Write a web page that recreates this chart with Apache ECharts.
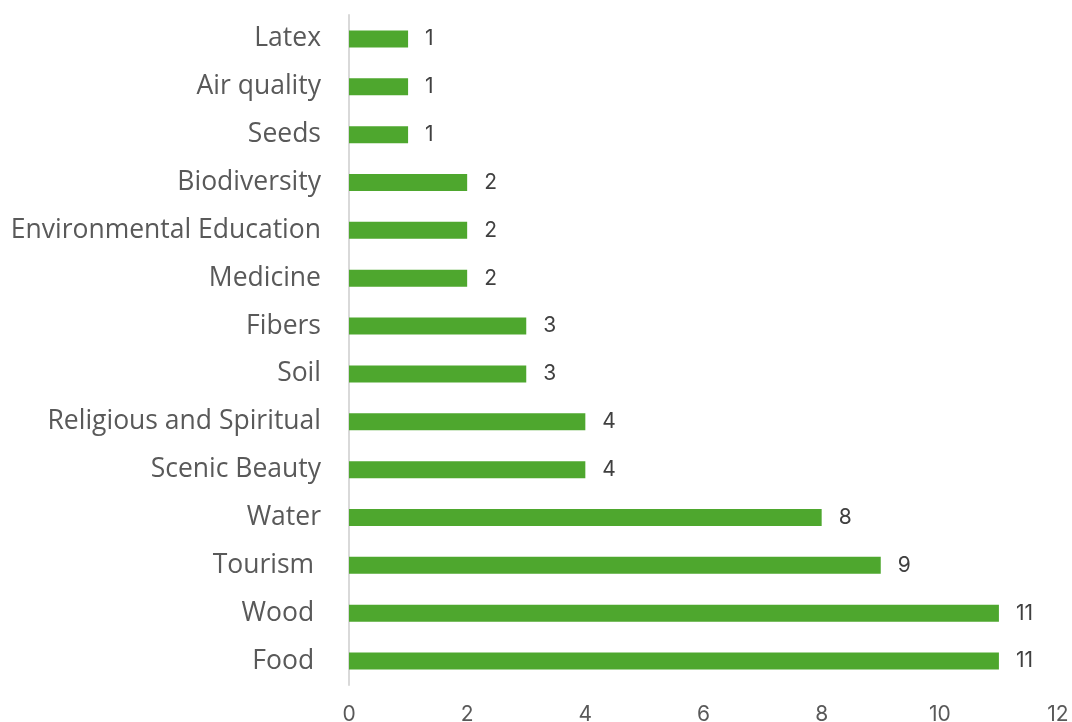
<!DOCTYPE html>
<html>
<head>
<meta charset="utf-8">
<script src="https://cdn.jsdelivr.net/npm/echarts@6/dist/echarts.min.js"></script>
<style>
  html, body { margin: 0; padding: 0; background: #ffffff; }
  #chart { width: 1072px; height: 722px; }
</style>
</head>
<body>
<div id="chart"></div>
<script>
// Ecosystem services, ordered top to bottom as drawn
// (the last three names carry a trailing space in the source table)
const categories = [
  'Latex', 'Air quality', 'Seeds', 'Biodiversity', 'Environmental Education',
  'Medicine', 'Fibers', 'Soil', 'Religious and Spiritual', 'Scenic Beauty',
  'Water', 'Tourism ', 'Wood ', 'Food '
];
const counts = [1, 1, 1, 2, 2, 2, 3, 3, 4, 4, 8, 9, 11, 11];
const xTicks = [0, 2, 4, 6, 8, 10, 12];

const chart = echarts.init(document.getElementById('chart'), null, { renderer: 'canvas' });

chart.setOption({
  animation: false,
  backgroundColor: '#ffffff',
  grid: {
    left: 349, right: 14, top: 15, bottom: 37,
    containLabel: false,
    outerBoundsMode: 'none'
  },
  xAxis: {
    type: 'value',
    min: xTicks[0],
    max: xTicks[xTicks.length - 1],
    interval: 2,
    axisLine: { show: false },
    axisTick: { show: false },
    splitLine: { show: false },
    axisLabel: {
      margin: 19,
      color: '#595959',
      fontFamily: 'Inter',
      fontSize: 21
    }
  },
  yAxis: {
    type: 'category',
    data: categories,
    inverse: true,
    axisLine: { show: true, lineStyle: { color: '#d9d9d9', width: 2 } },
    axisTick: { show: false },
    axisLabel: {
      margin: 28,
      color: '#595959',
      fontFamily: 'Open Sans',
      fontSize: 26.5
    }
  },
  series: [{
    type: 'bar',
    data: counts,
    barWidth: 17,
    itemStyle: { color: '#4ea72e' },
    label: {
      show: true,
      position: 'right',
      distance: 17,
      color: '#404040',
      fontFamily: 'Inter',
      fontSize: 21
    }
  }]
});
</script>
</body>
</html>
